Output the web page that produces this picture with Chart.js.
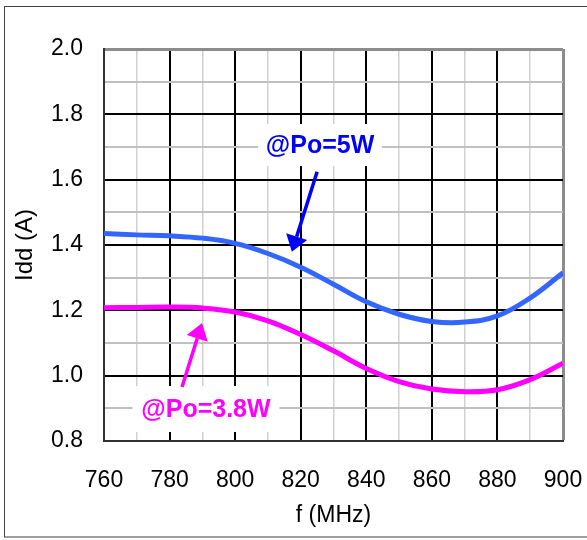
<!DOCTYPE html>
<html>
<head>
<meta charset="utf-8">
<script src="https://cdn.jsdelivr.net/npm/chart.js@4"></script>
<style>
  html, body { margin: 0; padding: 0; background: #fff; }
  #wrap { width: 587px; height: 540px; }
</style>
</head>
<body>
<div id="wrap"><canvas id="iddChart" width="587" height="540"></canvas></div>
<script>
// values
const freqMHz = [760, 770, 780, 790, 800, 810, 820, 830, 840, 850, 860, 870, 880, 890, 900];
const iddPo5W = [1.435, 1.431, 1.428, 1.421, 1.405, 1.374, 1.332, 1.280, 1.226, 1.188, 1.166, 1.164, 1.183, 1.238, 1.315];
const iddPo38W = [1.208, 1.209, 1.210, 1.207, 1.195, 1.168, 1.126, 1.076, 1.022, 0.982, 0.959, 0.951, 0.957, 0.988, 1.038];
const xTickLabels = ["760", "780", "800", "820", "840", "860", "880", "900"];
const yTickLabels = ["0.8", "1.0", "1.2", "1.4", "1.6", "1.8", "2.0"];

const FONT = "'Liberation Sans', Arial, sans-serif";

// callouts, placed in data units
const notes = [
  { text: "@Po=5W", color: "#0000ff", at: [825.9, 1.706], box: [124, 42], from: [825, 1.624], to: [817.3, 1.379] },
  { text: "@Po=3.8W", color: "#ff00ff", at: [791.1, 0.898], box: [147, 46], from: [783.8, 0.965], to: [789.9, 1.161] },
];

const toPoints = (ys) => freqMHz.map((f, i) => ({ x: f, y: ys[i] }));

const isMajorX = (v) => Math.round(v) % 20 === 0;
const isMajorY = (v) => Math.round(v * 10) % 2 === 0;

const frameAndNotes = {
  id: "frameAndNotes",
  beforeDraw(chart) {
    const ctx = chart.ctx;
    ctx.save();
    ctx.fillStyle = "#fff";
    ctx.fillRect(0, 0, chart.width, chart.height);
    ctx.strokeStyle = "#404040";
    ctx.lineWidth = 1;
    ctx.strokeRect(4.5, 6.5, 640, 530.5);
    ctx.restore();
  },
  afterDatasetsDraw(chart) {
    const ctx = chart.ctx;
    const xs = chart.scales.x;
    const ys = chart.scales.y;
    ctx.save();
    notes.forEach((n) => {
      const cx = xs.getPixelForValue(n.at[0]);
      const cy = ys.getPixelForValue(n.at[1]);
      ctx.fillStyle = "#fff";
      ctx.fillRect(cx - n.box[0] / 2, cy - n.box[1] / 2, n.box[0], n.box[1]);
      ctx.fillStyle = n.color;
      ctx.font = "bold 25px " + FONT;
      ctx.textAlign = "center";
      ctx.textBaseline = "middle";
      ctx.fillText(n.text, cx, cy + 1);

      // arrow
      const x0 = xs.getPixelForValue(n.from[0]);
      const y0 = ys.getPixelForValue(n.from[1]);
      const x1 = xs.getPixelForValue(n.to[0]);
      const y1 = ys.getPixelForValue(n.to[1]);
      const ang = Math.atan2(y1 - y0, x1 - x0);
      const headLen = 16;
      const headHalf = 11;
      const bx = x1 - headLen * Math.cos(ang);
      const by = y1 - headLen * Math.sin(ang);
      ctx.strokeStyle = n.color;
      ctx.lineWidth = 3.5;
      ctx.beginPath();
      ctx.moveTo(x0, y0);
      ctx.lineTo(bx, by);
      ctx.stroke();
      ctx.beginPath();
      ctx.moveTo(x1, y1);
      ctx.lineTo(bx + headHalf * Math.sin(ang), by - headHalf * Math.cos(ang));
      ctx.lineTo(bx - headHalf * Math.sin(ang), by + headHalf * Math.cos(ang));
      ctx.closePath();
      ctx.fill();
    });
    ctx.restore();
  },
};

new Chart(document.getElementById("iddChart"), {
  type: "line",
  data: {
    datasets: [
      {
        label: "@Po=5W",
        data: toPoints(iddPo5W),
        borderColor: "#3366ff",
        borderWidth: 5,
        pointRadius: 0,
        tension: 0.4,
      },
      {
        label: "@Po=3.8W",
        data: toPoints(iddPo38W),
        borderColor: "#ff00ff",
        borderWidth: 5,
        pointRadius: 0,
        tension: 0.4,
      },
    ],
  },
  options: {
    responsive: false,
    animation: false,
    events: [],
    layout: { padding: { left: 0, top: 49, right: 24, bottom: 0 } },
    plugins: { legend: { display: false }, tooltip: { enabled: false } },
    scales: {
      x: {
        type: "linear",
        min: 760,
        max: 900,
        afterFit: (scale) => {
          scale.height = 99;
          scale.paddingLeft = 0;
          scale.paddingRight = 0;
        },
        ticks: {
          stepSize: 10,
          autoSkip: false,
          maxRotation: 0,
          padding: 26,
          color: "#000",
          font: { family: FONT, size: 23 },
          callback: (value) => {
            const i = (value - 760) / 20;
            return Number.isInteger(i) ? xTickLabels[i] : "";
          },
        },
        grid: {
          drawTicks: false,
          color: (c) => (c.tick.value === 900 ? "#8c8c8c" : isMajorX(c.tick.value) ? "#000" : "#d0d0d0"),
          lineWidth: (c) => (c.tick.value === 900 ? 3 : isMajorX(c.tick.value) ? 2 : 1.5),
        },
        border: { color: "#333", width: 2 },
        title: {
          display: true,
          text: "f (MHz)",
          color: "#000",
          font: { family: FONT, size: 23 },
          padding: { top: 0, bottom: 11 },
        },
      },
      y: {
        min: 0.8,
        max: 2.0,
        afterFit: (scale) => {
          scale.width = 104;
          scale.paddingTop = 0;
          scale.paddingBottom = 0;
        },
        ticks: {
          stepSize: 0.1,
          autoSkip: false,
          padding: 21,
          color: "#000",
          font: { family: FONT, size: 23 },
          callback: (value) => {
            const i = Math.round((value - 0.8) * 10);
            return i % 2 === 0 ? yTickLabels[i / 2] : "";
          },
        },
        grid: {
          drawTicks: false,
          color: (c) => (Math.abs(c.tick.value - 2.0) < 1e-6 ? "#8c8c8c" : isMajorY(c.tick.value) ? "#000" : "#c0c0c0"),
          lineWidth: (c) => (Math.abs(c.tick.value - 2.0) < 1e-6 ? 3 : 2),
        },
        border: { color: "#333", width: 2 },
        title: {
          display: true,
          text: "Idd (A)",
          color: "#000",
          font: { family: FONT, size: 24 },
          padding: { top: 11, bottom: 0 },
        },
      },
    },
  },
  plugins: [frameAndNotes],
});
</script>
</body>
</html>
